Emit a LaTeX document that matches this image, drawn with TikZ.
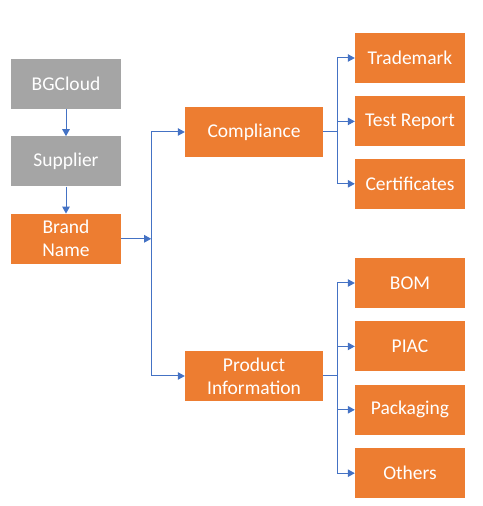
\documentclass[tikz,border=0pt]{standalone}
\usepackage{fontspec}
\setmainfont{Carlito}
\usepackage{tikz}
\usetikzlibrary{positioning, arrows.meta}
\definecolor{boxorange}{HTML}{ED7D31}
\definecolor{boxgray}{HTML}{A5A5A5}
\definecolor{linkblue}{HTML}{4472C4}

\begin{document}
\begin{tikzpicture}[
    x=1pt, y=1pt,
    node distance=13pt,
    every node/.style={font=\fontsize{19.5}{23}\selectfont, text=white},
    box/.style={rectangle, minimum width=110pt, minimum height=50pt, inner sep=0pt, align=center, fill=#1},
    box/.default=boxorange,
    src/.style={box=boxgray},
    cat/.style={box, minimum width=138pt},
    arr/.style={-{Triangle[length=7pt, width=7.5pt]}, draw=linkblue, line width=1pt},
]
    \useasboundingbox (0,0) rectangle (482,506);

    \node[src] (bg) at (66,422) {BGCloud};
    \node[src, below=27pt of bg] (sup) {Supplier};
    \node[box, below=27pt of sup] (brand) {Brand\\Name};

    \node[cat] (comp) at (254,374) {Compliance};
    \node[cat] (prod) at (254,130) {Product\\Information};

    % compliance leaves
    \node[box] (tm) at (410,448) {Trademark};
    \node[box, below=of tm] (tr) {Test Report};
    \node[box, below=12pt of tr] (cert) {Certificates};

    % product information leaves
    \node[box] (bom) at (410,223) {BOM};
    \node[box, below=of bom] (piac) {PIAC};
    \node[box, below=of piac] (pack) {Packaging};
    \node[box, below=of pack] (oth) {Others};

    \draw[arr] (bg) -- (sup);
    \draw[arr] (sup) -- (brand);

    \draw[arr] (brand.east) -- ++(30,0) coordinate (bus);
    \draw[arr] (bus) |- (comp.west);
    \draw[arr] (bus) |- (prod.west);

    \foreach \leaf in {tm,tr,cert}
        \draw[arr] (comp.east) -- ++(14,0) |- (\leaf.west);
    \foreach \leaf in {bom,piac,pack,oth}
        \draw[arr] (prod.east) -- ++(14,0) |- (\leaf.west);
\end{tikzpicture}
\end{document}
